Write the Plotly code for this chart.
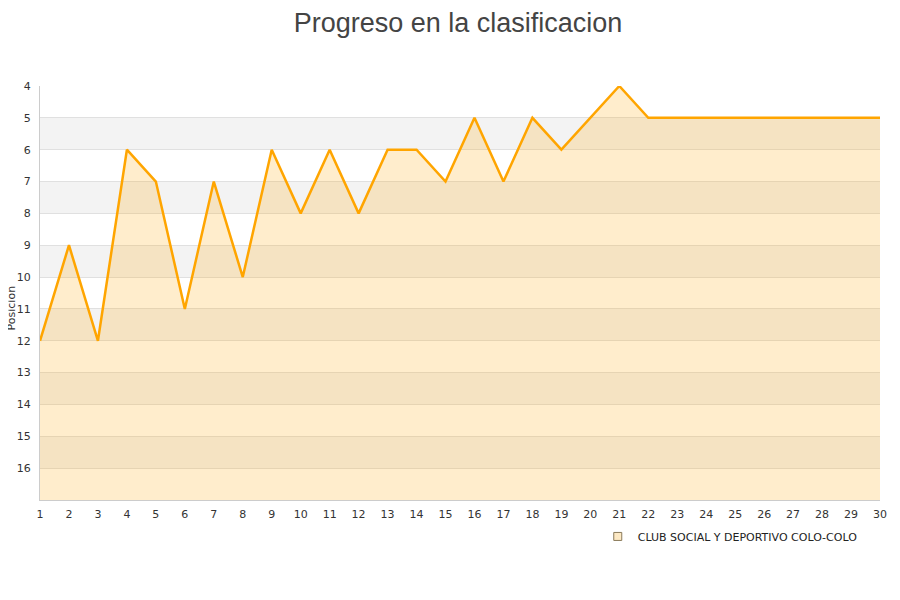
import plotly.graph_objects as go

# Posicion por jornada
jornadas = list(range(1, 31))
posiciones = [12, 9, 12, 6, 7, 11, 7, 10, 6, 8, 6, 8, 6, 6, 7, 5, 7, 5, 6, 5,
              4, 5, 5, 5, 5, 5, 5, 5, 5, 5]
equipo = 'CLUB SOCIAL Y DEPORTIVO COLO-COLO'
y_ticks = list(range(4, 17))
y_fondo = 17

LINE_COLOR = '#ffa500'
FILL_COLOR = 'rgba(255,165,0,0.2)'

fig = go.Figure()

# baseline for the area fill
fig.add_trace(go.Scatter(x=jornadas, y=[y_fondo] * len(jornadas), mode='lines',
                         line=dict(width=0), showlegend=False, hoverinfo='skip'))
fig.add_trace(go.Scatter(x=jornadas, y=posiciones, mode='lines',
                         line=dict(color=LINE_COLOR, width=2.5),
                         fill='tonexty', fillcolor=FILL_COLOR,
                         name=equipo, showlegend=False))
# legend entry only
fig.add_trace(go.Scatter(x=[None], y=[None], mode='markers', name=equipo,
                         marker=dict(symbol='square', size=8, color='#fde9c4',
                                     line=dict(color='#8a7a5a', width=1))))

# alternating bands
for t in y_ticks[1::2]:
    fig.add_shape(type='rect', xref='paper', yref='y', x0=0, x1=1, y0=t, y1=t + 1,
                  fillcolor='#f3f3f3', line_width=0, layer='below')

# y axis title as annotation
fig.add_annotation(text='Posicion', xref='paper', yref='paper', x=-0.044, y=0.464,
                   textangle=-90, showarrow=False, xanchor='left', yanchor='middle',
                   font=dict(size=11, color='#333333'))

fig.update_layout(
    title=dict(text='Progreso en la clasificacion', x=0.5, y=0.975, xanchor='center',
               yanchor='middle', yref='container',
               font=dict(size=27, color='#444444', family='Liberation Sans')),
    width=900, height=600,
    margin=dict(l=32, r=28, t=78, b=108),
    paper_bgcolor='white', plot_bgcolor='white',
    font=dict(family='DejaVu Sans', size=11, color='#333333'),
    showlegend=True,
    legend=dict(orientation='h', x=0.664, y=-0.053, xanchor='left', yanchor='top',
                font=dict(size=11, color='#222222'), bgcolor='rgba(0,0,0,0)'),
    xaxis=dict(range=[1, 30], tickmode='array', tickvals=jornadas, showgrid=False,
               zeroline=False, showline=True, linecolor='#cccccc', ticks='',
               ticklabelstandoff=4,
               tickfont=dict(size=11, color='#333333'), automargin=False),
    yaxis=dict(range=[y_fondo, 4], tickmode='array', tickvals=y_ticks,
               showgrid=True, gridcolor='#e0e0e0', zeroline=False,
               showline=True, linecolor='#cccccc', ticks='', automargin=False,
               ticklabelstandoff=6,
               tickfont=dict(size=11, color='#333333')),
)

fig.write_html('out.html')
